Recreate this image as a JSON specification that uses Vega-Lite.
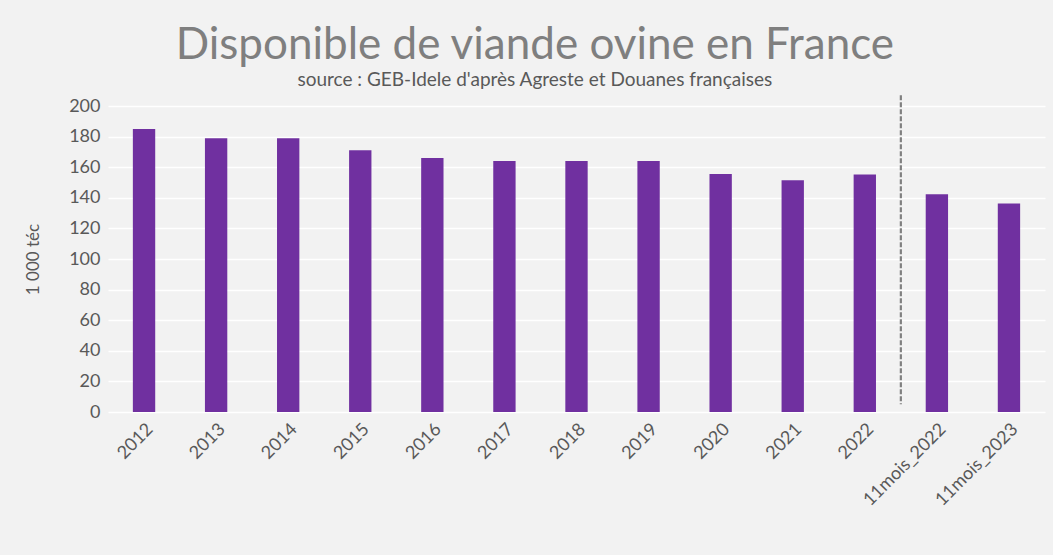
{
  "$schema": "https://vega.github.io/schema/vega-lite/v6.json",
  "width": 1053,
  "height": 555,
  "autosize": {"type": "fit", "contains": "padding"},
  "padding": {"left": 24, "top": 15, "right": 8, "bottom": 45},
  "background": "#f2f2f2",
  "title": {
    "text": "Disponible de viande ovine en France",
    "subtitle": "source : GEB-Idele d'après Agreste et Douanes françaises",
    "anchor": "middle",
    "frame": "bounds",
    "font": "Lato",
    "fontSize": 44,
    "fontWeight": "normal",
    "color": "#7f7f7f",
    "subtitleFont": "Lato",
    "subtitleFontSize": 19,
    "subtitleColor": "#595959",
    "subtitlePadding": 3,
    "offset": 4
  },
  "config": {
    "view": {"stroke": null},
    "axis": {
      "labelFont": "Lato",
      "titleFont": "Lato",
      "labelColor": "#595959",
      "titleColor": "#595959",
      "labelFontSize": 18,
      "titleFontSize": 17,
      "titleFontWeight": "normal"
    }
  },
  "datasets": {
    "bars": [
      {"periode": "2012", "valeur": 185},
      {"periode": "2013", "valeur": 179},
      {"periode": "2014", "valeur": 179},
      {"periode": "2015", "valeur": 171},
      {"periode": "2016", "valeur": 166},
      {"periode": "2017", "valeur": 164},
      {"periode": "2018", "valeur": 164},
      {"periode": "2019", "valeur": 164},
      {"periode": "2020", "valeur": 155.5},
      {"periode": "2021", "valeur": 151.5},
      {"periode": "2022", "valeur": 155.3},
      {"periode": "11mois_2022", "valeur": 142.4},
      {"periode": "11mois_2023", "valeur": 136.3}
    ],
    "separateur": [
      {"periode": "11mois_2022", "haut": 207, "bas": 5}
    ]
  },
  "layer": [
    {
      "data": {"name": "bars"},
      "mark": {"type": "bar", "color": "#7030a0", "width": {"band": 0.31}},
      "encoding": {
        "x": {
          "field": "periode",
          "type": "nominal",
          "sort": null,
          "scale": {"paddingInner": 0, "paddingOuter": 0},
          "axis": {
            "title": null,
            "labelAngle": -45,
            "domain": false,
            "ticks": false,
            "grid": false,
            "labelPadding": 8
          }
        },
        "y": {
          "field": "valeur",
          "type": "quantitative",
          "scale": {"domain": [0, 200]},
          "axis": {
            "title": "1 000 téc",
            "values": [0, 20, 40, 60, 80, 100, 120, 140, 160, 180, 200],
            "labelOverlap": false,
            "domain": false,
            "ticks": false,
            "gridColor": "#ffffff",
            "gridWidth": 1.3,
            "labelPadding": 8,
            "titlePadding": 26
          }
        }
      }
    },
    {
      "data": {"name": "separateur"},
      "mark": {"type": "rule", "color": "#808080", "strokeWidth": 2.2, "strokeDash": [5, 2], "clip": false},
      "encoding": {
        "x": {
          "field": "periode",
          "type": "nominal",
          "bandPosition": 0,
          "sort": null,
          "axis": {
            "title": null,
            "labelAngle": -45,
            "domain": false,
            "ticks": false,
            "grid": false,
            "labelPadding": 8
          }
        },
        "y": {
          "field": "haut",
          "type": "quantitative",
          "axis": {
            "title": "1 000 téc",
            "values": [0, 20, 40, 60, 80, 100, 120, 140, 160, 180, 200],
            "labelOverlap": false,
            "domain": false,
            "ticks": false,
            "gridColor": "#ffffff",
            "gridWidth": 1.3,
            "labelPadding": 8,
            "titlePadding": 26
          }
        },
        "y2": {"field": "bas"}
      }
    }
  ]
}
